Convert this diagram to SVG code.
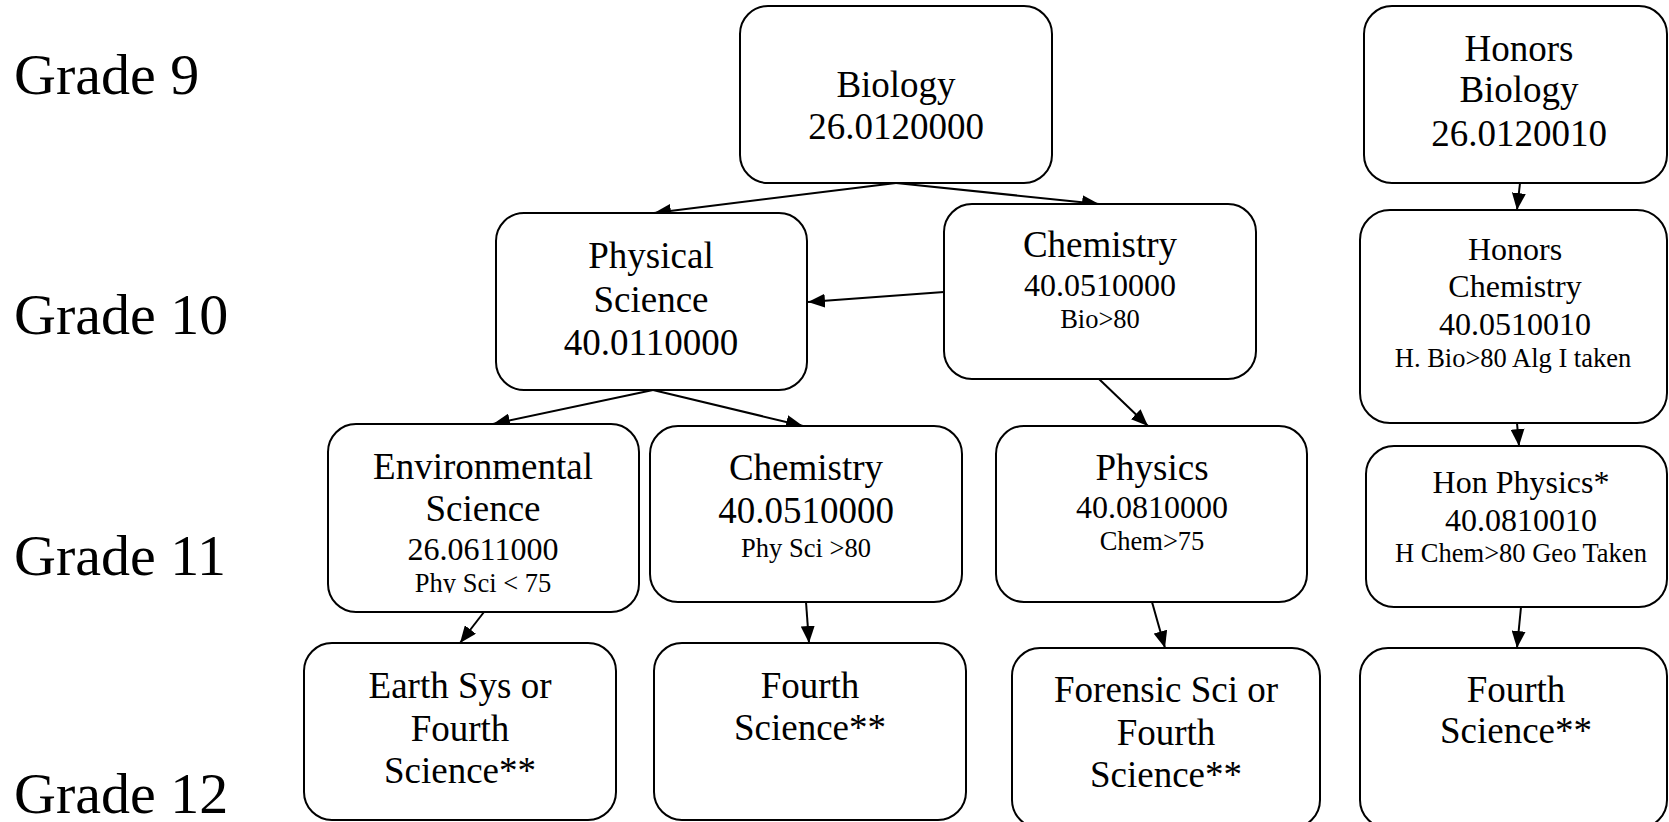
<svg xmlns="http://www.w3.org/2000/svg" width="1669" height="822" viewBox="0 0 1669 822">
<style>
.box{fill:#fff;stroke:#000;stroke-width:2}
text{font-family:"Liberation Serif","Times New Roman",serif;fill:#000;text-anchor:middle}
.grade{font-size:58px;text-anchor:start}
.big{font-size:37px}
.med{font-size:32px}
.sm{font-size:26.5px}
.conn line{stroke:#000;stroke-width:2;fill:none;marker-end:url(#arr)}
</style>
<defs>
<marker id="arr" markerUnits="userSpaceOnUse" markerWidth="18" markerHeight="14" refX="17" refY="7" orient="auto">
<path d="M0,0 L17,7 L0,14 Z" fill="#000"/>
</marker>
<clipPath id="envclip"><rect x="300" y="420" width="360" height="173"/></clipPath>
</defs>
<rect width="1669" height="822" fill="#fff"/>
<g id="grades">
<text class="grade" x="14" y="94">Grade 9</text>
<text class="grade" x="14" y="334">Grade 10</text>
<text class="grade" x="14" y="575">Grade 11</text>
<text class="grade" x="14" y="813">Grade 12</text>
</g>
<g class="conn" id="connectors">
<line x1="896" y1="183" x2="654" y2="213"/>
<line x1="896" y1="183" x2="1099" y2="204"/>
<line x1="944" y1="292" x2="808" y2="302"/>
<line x1="653" y1="390" x2="493" y2="424"/>
<line x1="653" y1="390" x2="803" y2="426"/>
<line x1="1099" y1="379" x2="1148" y2="426"/>
<line x1="484" y1="612" x2="460" y2="643"/>
<line x1="806" y1="602" x2="809" y2="643"/>
<line x1="1152" y1="602" x2="1165" y2="648"/>
<line x1="1520" y1="183" x2="1517" y2="210"/>
<line x1="1517" y1="423" x2="1519" y2="446"/>
<line x1="1521" y1="607" x2="1517" y2="648"/>
</g>
<g id="biology">
<rect class="box" x="740" y="6" width="312" height="177" rx="28"/>
<text class="big" x="896" y="97">Biology</text>
<text class="big" x="896" y="139">26.0120000</text>
</g>
<g id="honors-biology">
<rect class="box" x="1364" y="6" width="303" height="177" rx="28"/>
<text class="big" x="1519" y="61">Honors</text>
<text class="big" x="1519" y="102">Biology</text>
<text class="big" x="1519" y="146">26.0120010</text>
</g>
<g id="physical-science">
<rect class="box" x="496" y="213" width="311" height="177" rx="28"/>
<text class="big" x="651" y="268">Physical</text>
<text class="big" x="651" y="312">Science</text>
<text class="big" x="651" y="355">40.0110000</text>
</g>
<g id="chemistry-10">
<rect class="box" x="944" y="204" width="312" height="175" rx="28"/>
<text class="big" x="1100" y="257">Chemistry</text>
<text class="med" x="1100" y="296">40.0510000</text>
<text class="sm" x="1100" y="328">Bio&gt;80</text>
</g>
<g id="honors-chemistry">
<rect class="box" x="1360" y="210" width="307" height="213" rx="30"/>
<text class="med" x="1515" y="260">Honors</text>
<text class="med" x="1515" y="297">Chemistry</text>
<text class="med" x="1515" y="335">40.0510010</text>
<text class="sm" x="1513" y="367">H. Bio&gt;80 Alg I taken</text>
</g>
<g id="environmental-science">
<rect class="box" x="328" y="424" width="311" height="188" rx="28"/>
<text class="big" x="483" y="479">Environmental</text>
<text class="big" x="483" y="521">Science</text>
<text class="med" x="483" y="560">26.0611000</text>
<text class="sm" x="483" y="592" clip-path="url(#envclip)">Phy Sci &lt; 75</text>
</g>
<g id="chemistry-11">
<rect class="box" x="650" y="426" width="312" height="176" rx="28"/>
<text class="big" x="806" y="480">Chemistry</text>
<text class="big" x="806" y="523">40.0510000</text>
<text class="sm" x="806" y="557">Phy Sci &gt;80</text>
</g>
<g id="physics">
<rect class="box" x="996" y="426" width="311" height="176" rx="28"/>
<text class="big" x="1152" y="480">Physics</text>
<text class="med" x="1152" y="518">40.0810000</text>
<text class="sm" x="1152" y="550">Chem&gt;75</text>
</g>
<g id="honors-physics">
<rect class="box" x="1366" y="446" width="301" height="161" rx="28"/>
<text class="med" x="1521" y="493">Hon Physics*</text>
<text class="med" x="1521" y="531">40.0810010</text>
<text class="sm" x="1521" y="562">H Chem&gt;80 Geo Taken</text>
</g>
<g id="earth-sys">
<rect class="box" x="304" y="643" width="312" height="177" rx="28"/>
<text class="big" x="460" y="698">Earth Sys or</text>
<text class="big" x="460" y="741">Fourth</text>
<text class="big" x="460" y="783">Science**</text>
</g>
<g id="fourth-science-2">
<rect class="box" x="654" y="643" width="312" height="177" rx="28"/>
<text class="big" x="810" y="698">Fourth</text>
<text class="big" x="810" y="740">Science**</text>
</g>
<g id="forensic">
<rect class="box" x="1012" y="648" width="308" height="180" rx="28"/>
<text class="big" x="1166" y="702">Forensic Sci or</text>
<text class="big" x="1166" y="745">Fourth</text>
<text class="big" x="1166" y="787">Science**</text>
</g>
<g id="fourth-science-4">
<rect class="box" x="1360" y="648" width="307" height="180" rx="28"/>
<text class="big" x="1516" y="702">Fourth</text>
<text class="big" x="1516" y="743">Science**</text>
</g>
</svg>
